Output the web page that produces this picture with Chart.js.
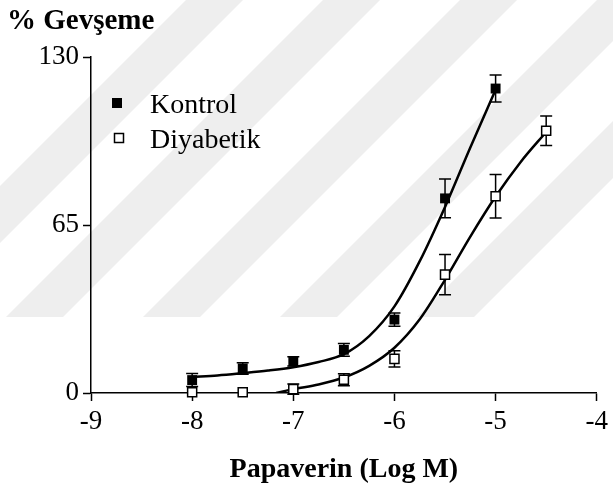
<!DOCTYPE html>
<html>
<head>
<meta charset="utf-8">
<script src="https://cdn.jsdelivr.net/npm/chart.js@4.4.1/dist/chart.umd.min.js"></script>
<style>
  html, body { margin: 0; padding: 0; background: #fff; }
  #wrap { width: 613px; height: 490px; position: relative; }
</style>
</head>
<body>
<div id="wrap"><canvas id="chart"></canvas></div>
<script>
const SERIES = ['Kontrol', 'Diyabetik'];

// mean ± SEM
const KONTROL_DOSES = [-8, -7.5, -7, -6.5, -6, -5.5, -5];
const KONTROL_MEAN = [5, 9.5, 12.2, 16.7, 28.4, 75.3, 117.8];
const KONTROL_SEM = [2.5, 2.2, 1.8, 2.5, 2.6, 7.5, 5.2];

const DIAB_DOSES = [-8, -7.5, -7, -6.5, -6, -5.5, -5, -4.5];
const DIAB_MEAN = [0.3, 0.3, 1.5, 5.1, 13.2, 45.8, 76.1, 101.5];
const DIAB_SEM = [0, 0, 2, 2.3, 3.1, 7.8, 8.4, 5.7];

// fitted curves, sampled from the figure
const KONTROL_FIT_X = [-8, -7.75, -7.5, -7.25, -7, -6.75, -6.5, -6.25, -6, -5.75, -5.5, -5.25, -5];
const KONTROL_FIT_Y = [6.2, 6.8, 7.7, 8.7, 10, 12, 15, 22, 33.5, 51, 72, 95, 117.3];
const DIAB_FIT_X = [-7.17, -7, -6.75, -6.5, -6.25, -6, -5.75, -5.5, -5.25, -5, -4.75, -4.5];
const DIAB_FIT_Y = [0, 1.5, 3.3, 6, 10.5, 17.5, 28.5, 43.8, 60.5, 76, 89.5, 101];

const X_TICKS = [-9, -8, -7, -6, -5, -4];
const Y_TICKS = [0, 65, 130];

const FONT = '"Liberation Serif", "Times New Roman", serif';

const pts = (xs, ys) => xs.map((x, i) => ({ x, y: ys[i] }));

// faint diagonal watermark behind the plot
const watermark = {
  id: 'watermark',
  beforeDraw(chart) {
    const ctx = chart.ctx;
    ctx.save();
    ctx.fillStyle = '#fff';
    ctx.fillRect(0, 0, chart.width, chart.height);
    ctx.fillStyle = '#eeeeee';
    const bottom = 317;
    const w = 57;
    [-131, 6, 143, 280, 417].forEach((x0) => {
      ctx.beginPath();
      ctx.moveTo(x0, bottom);
      ctx.lineTo(x0 + w, bottom);
      ctx.lineTo(x0 + w + bottom, 0);
      ctx.lineTo(x0 + bottom, 0);
      ctx.closePath();
      ctx.fill();
    });
    ctx.restore();
  },
};

const errorBars = {
  id: 'errorBars',
  beforeDatasetsDraw(chart) {
    const { ctx, scales: { x, y } } = chart;
    ctx.save();
    ctx.strokeStyle = '#000';
    ctx.lineWidth = 1.5;
    [[KONTROL_DOSES, KONTROL_MEAN, KONTROL_SEM], [DIAB_DOSES, DIAB_MEAN, DIAB_SEM]].forEach(([xs, ms, es]) => {
      xs.forEach((v, i) => {
        if (!es[i]) return;
        const px = x.getPixelForValue(v);
        const top = y.getPixelForValue(ms[i] + es[i]);
        const bot = y.getPixelForValue(ms[i] - es[i]);
        ctx.beginPath();
        ctx.moveTo(px, top); ctx.lineTo(px, bot);
        ctx.moveTo(px - 6, top); ctx.lineTo(px + 6, top);
        ctx.moveTo(px - 6, bot); ctx.lineTo(px + 6, bot);
        ctx.stroke();
      });
    });
    ctx.restore();
  },
};

const annotations = {
  id: 'annotations',
  afterDraw(chart) {
    const ctx = chart.ctx;
    ctx.save();
    ctx.fillStyle = '#000';
    ctx.textBaseline = 'alphabetic';
    ctx.font = 'bold 29px ' + FONT;
    ctx.fillText('% Gevşeme', 7, 29);

    ctx.font = '28px ' + FONT;
    ctx.fillRect(112, 98, 10, 10);
    ctx.fillText(SERIES[0], 150, 113);
    ctx.lineWidth = 1.5;
    ctx.strokeRect(114.5, 133.5, 9, 9);
    ctx.fillText(SERIES[1], 150, 148);
    ctx.restore();
  },
};

new Chart(document.getElementById('chart'), {
  type: 'scatter',
  data: {
    datasets: [
      {
        label: SERIES[0],
        data: pts(KONTROL_DOSES, KONTROL_MEAN),
        pointStyle: 'rect',
        pointRadius: 7,
        backgroundColor: '#000',
        borderColor: '#000',
        borderWidth: 0,
        clip: false,
      },
      {
        label: SERIES[1],
        data: pts(DIAB_DOSES, DIAB_MEAN),
        pointStyle: 'rect',
        pointRadius: 6.4,
        backgroundColor: '#fff',
        borderColor: '#000',
        borderWidth: 1.5,
        clip: false,
      },
      {
        label: SERIES[0] + ' fit',
        data: pts(KONTROL_FIT_X, KONTROL_FIT_Y),
        showLine: true,
        cubicInterpolationMode: 'monotone',
        pointRadius: 0,
        borderColor: '#000',
        borderWidth: 2.5,
      },
      {
        label: SERIES[1] + ' fit',
        data: pts(DIAB_FIT_X, DIAB_FIT_Y),
        showLine: true,
        cubicInterpolationMode: 'monotone',
        pointRadius: 0,
        borderColor: '#000',
        borderWidth: 2.5,
      },
    ],
  },
  options: {
    responsive: true,
    maintainAspectRatio: false,
    animation: false,
    layout: { padding: { top: 57, right: 14, left: 0, bottom: 0 } },
    plugins: {
      legend: { display: false },
      tooltip: { enabled: false },
    },
    scales: {
      x: {
        type: 'linear',
        min: -9,
        max: -4,
        afterBuildTicks: (s) => { s.ticks = X_TICKS.map((v) => ({ value: v })); },
        afterFit: (s) => { s.height = 97; },
        grid: { drawOnChartArea: false, drawTicks: true, tickLength: 8, tickWidth: 1.5, color: '#000' },
        border: { color: '#000', width: 1.5 },
        ticks: { color: '#000', padding: 5, font: { family: FONT, size: 27 }, maxRotation: 0 },
        title: {
          display: true,
          text: 'Papaverin (Log M)',
          color: '#000',
          font: { family: FONT, size: 28, weight: 'bold' },
          padding: { top: 0, bottom: 3 },
        },
      },
      y: {
        type: 'linear',
        min: 0,
        max: 130,
        afterBuildTicks: (s) => { s.ticks = Y_TICKS.map((v) => ({ value: v })); },
        afterFit: (s) => { s.width = 91; },
        grid: { drawOnChartArea: false, drawTicks: true, tickLength: 8, tickWidth: 1.5, color: '#000' },
        border: { color: '#000', width: 1.5 },
        ticks: { color: '#000', padding: 4, font: { family: FONT, size: 27 } },
      },
    },
  },
  plugins: [watermark, errorBars, annotations],
});
</script>
</body>
</html>
